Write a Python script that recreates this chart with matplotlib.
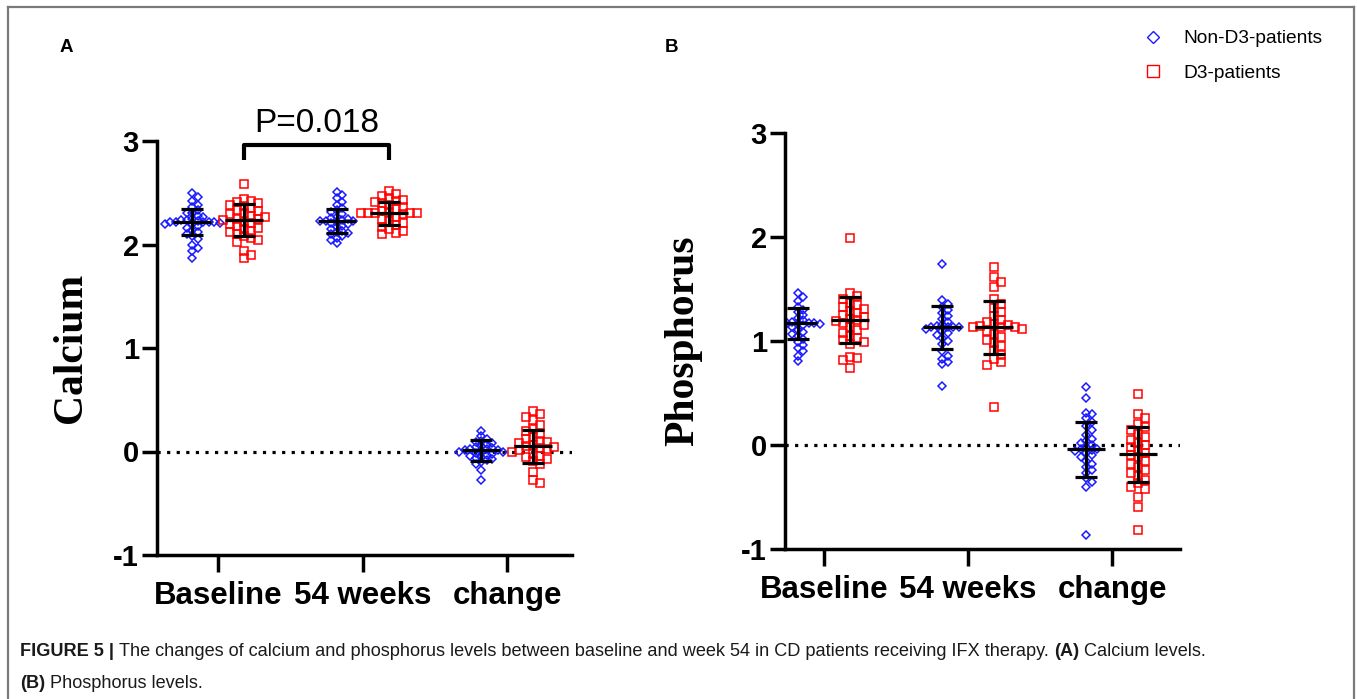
import matplotlib
matplotlib.use("Agg")
import matplotlib.pyplot as plt
from matplotlib.lines import Line2D

plt.rcParams["axes.unicode_minus"] = False

W, H = 1357, 699

groups = ["Baseline", "54 weeks", "change"]
series = ["Non-D3-patients", "D3-patients"]

# calcium, non-D3
ca_base_non = [2.50, 2.46, 2.42, 2.38, 2.36, 2.33, 2.30, 2.30, 2.28, 2.27, 2.25, 2.24, 2.24,
               2.23, 2.22, 2.22, 2.22, 2.22, 2.22, 2.21, 2.20, 2.20, 2.18, 2.16, 2.14, 2.12,
               2.10, 2.08, 2.05, 2.00, 1.97, 1.94, 1.87]
ca_54w_non = [2.51, 2.48, 2.45, 2.41, 2.38, 2.35, 2.33, 2.31, 2.29, 2.27, 2.26, 2.25, 2.24,
              2.23, 2.23, 2.23, 2.22, 2.21, 2.20, 2.18, 2.17, 2.15, 2.13, 2.12, 2.11, 2.10,
              2.08, 2.06, 2.04, 2.01]
ca_chg_non = [0.20, 0.15, 0.12, 0.10, 0.09, 0.08, 0.07, 0.05, 0.04, 0.03, 0.02, 0.02, 0.01,
              0.01, 0.00, 0.00, 0.00, -0.01, -0.02, -0.03, -0.04, -0.05, -0.06, -0.07, -0.08,
              -0.10, -0.12, -0.18, -0.28]
# calcium, D3
ca_base_d3 = [2.58, 2.44, 2.42, 2.41, 2.40, 2.38, 2.37, 2.35, 2.33, 2.32, 2.30, 2.29, 2.28,
              2.27, 2.25, 2.25, 2.24, 2.22, 2.21, 2.20, 2.18, 2.16, 2.15, 2.13, 2.12, 2.10,
              2.08, 2.06, 2.04, 2.02, 1.94, 1.90, 1.87]
ca_54w_d3 = [2.52, 2.49, 2.47, 2.45, 2.43, 2.42, 2.41, 2.40, 2.38, 2.36, 2.34, 2.32, 2.31,
             2.30, 2.30, 2.30, 2.30, 2.30, 2.29, 2.27, 2.25, 2.23, 2.21, 2.19, 2.17, 2.15,
             2.13, 2.11, 2.10]
ca_chg_d3 = [0.39, 0.36, 0.33, 0.30, 0.26, 0.22, 0.20, 0.17, 0.14, 0.12, 0.10, 0.09, 0.08,
             0.06, 0.05, 0.04, 0.03, 0.02, 0.01, 0.00, -0.02, -0.04, -0.05, -0.07, -0.09,
             -0.12, -0.20, -0.28, -0.30]

# phosphorus, non-D3
ph_base_non = [1.46, 1.42, 1.38, 1.33, 1.30, 1.28, 1.25, 1.22, 1.20, 1.18, 1.17, 1.17, 1.17,
               1.17, 1.17, 1.16, 1.15, 1.13, 1.11, 1.09, 1.07, 1.05, 1.02, 0.99, 0.96, 0.93,
               0.90, 0.86, 0.81]
ph_54w_non = [1.74, 1.39, 1.36, 1.33, 1.30, 1.27, 1.24, 1.21, 1.18, 1.15, 1.14, 1.13, 1.13,
              1.13, 1.13, 1.12, 1.10, 1.08, 1.06, 1.03, 1.00, 0.97, 0.90, 0.86, 0.83, 0.80,
              0.78, 0.57]
ph_chg_non = [0.56, 0.45, 0.31, 0.30, 0.26, 0.22, 0.18, 0.14, 0.10, 0.06, 0.04, 0.02, 0.00,
              -0.02, -0.04, -0.04, -0.05, -0.06, -0.08, -0.10, -0.12, -0.15, -0.18, -0.21,
              -0.24, -0.27, -0.32, -0.36, -0.40, -0.87]
# phosphorus, D3
ph_base_d3 = [1.99, 1.46, 1.43, 1.40, 1.37, 1.35, 1.33, 1.31, 1.29, 1.27, 1.25, 1.23, 1.21,
              1.20, 1.19, 1.17, 1.15, 1.13, 1.11, 1.08, 1.05, 1.03, 1.01, 0.99, 0.97, 0.85,
              0.84, 0.82, 0.74]
ph_54w_d3 = [1.71, 1.62, 1.57, 1.52, 1.40, 1.36, 1.32, 1.28, 1.24, 1.20, 1.18, 1.16, 1.15,
             1.14, 1.13, 1.13, 1.13, 1.12, 1.10, 1.07, 1.04, 1.01, 0.98, 0.95, 0.91, 0.87,
             0.83, 0.80, 0.77, 0.37]
ph_chg_d3 = [0.49, 0.30, 0.26, 0.20, 0.17, 0.14, 0.11, 0.08, 0.05, 0.02, 0.00, -0.02, -0.05,
             -0.08, -0.10, -0.12, -0.15, -0.18, -0.21, -0.24, -0.27, -0.30, -0.34, -0.37,
             -0.40, -0.42, -0.50, -0.60, -0.82]

# mean and SD bars
ca_mean_non = [2.22, 2.23, 0.01]
ca_sd_non = [0.125, 0.115, 0.10]
ca_mean_d3 = [2.24, 2.30, 0.05]
ca_sd_d3 = [0.155, 0.115, 0.16]
ph_mean_non = [1.17, 1.13, -0.04]
ph_sd_non = [0.15, 0.21, 0.265]
ph_mean_d3 = [1.20, 1.13, -0.09]
ph_sd_d3 = [0.22, 0.255, 0.265]

p_text = "P=0.018"

BLUE = "#1a1aff"
RED = "#ff0000"
SANS = "Liberation Sans"
SERIF = "Liberation Serif"


def swarm(vals, center, ppx, ppy, step, gap):
    # simple column scatter: nudge points sideways until they stop overlapping
    placed = []
    xs = []
    cands = [0]
    for i in range(1, 40):
        cands += [i, -i]
    for v in vals:
        y = v * ppy
        for c in cands:
            x = c * step
            if all(abs(x - px) >= step * 0.99 or abs(y - py) >= gap for px, py in placed):
                break
        placed.append((x, y))
        xs.append(center + x / ppx)
    return xs


fig = plt.figure(figsize=(W / 100, H / 100), dpi=100)

# frame around the figure part
kw = dict(transform=fig.transFigure, color="#7a7a7a", lw=1.6)
fig.add_artist(Line2D([8 / W, 8 / W], [0, 1 - 7 / H], **kw))
fig.add_artist(Line2D([8 / W, 1354 / W], [1 - 7 / H, 1 - 7 / H], **kw))
fig.add_artist(Line2D([1354 / W, 1354 / W], [0, 1 - 7 / H], **kw))

axA = fig.add_axes([157 / W, 1 - 555 / H, 415 / W, 414 / H])
axB = fig.add_axes([785 / W, 1 - 549 / H, 395 / W, 416 / H])

panels = [
    (axA, "Calcium", [ca_base_non, ca_54w_non, ca_chg_non], [ca_base_d3, ca_54w_d3, ca_chg_d3],
     ca_mean_non, ca_sd_non, ca_mean_d3, ca_sd_d3, 0.576, 3.45),
    (axB, "Phosphorus", [ph_base_non, ph_54w_non, ph_chg_non], [ph_base_d3, ph_54w_d3, ph_chg_d3],
     ph_mean_non, ph_sd_non, ph_mean_d3, ph_sd_d3, 0.73, 3.47),
]

off = 0.18
for ax, ylab, non, d3, mn, sn, md, sd, x0, x1 in panels:
    ax.set_xlim(x0, x1)
    ax.set_ylim(-1, 3)
    bb = ax.get_position()
    ppx = bb.width * W / (x1 - x0)
    ppy = bb.height * H / 4.0

    ax.axhline(0, color="black", lw=2.3, ls=(0, (1, 2)), zorder=1)

    for i in range(3):
        xb = swarm(non[i], i + 1 - off, ppx, ppy, 5.5, 5.0)
        ax.plot(xb, non[i], ls="none", marker="D", ms=4.2, mfc="none", mec=BLUE, mew=1.1, zorder=2)
        xr = swarm(d3[i], i + 1 + off, ppx, ppy, 7.0, 6.5)
        ax.plot(xr, d3[i], ls="none", marker="s", ms=5.2, mfc="none", mec=RED, mew=1.1, zorder=2)

    pos = [1 - off, 2 - off, 3 - off]
    ax.errorbar(pos, mn, yerr=sn, fmt="_", ms=27, mew=2.3, color="black", ecolor="black",
                elinewidth=2.3, capsize=8, capthick=2.3, zorder=3)
    pos = [1 + off, 2 + off, 3 + off]
    ax.errorbar(pos, md, yerr=sd, fmt="_", ms=27, mew=2.3, color="black", ecolor="black",
                elinewidth=2.3, capsize=8, capthick=2.3, zorder=3)

    for s in ["top", "right"]:
        ax.spines[s].set_visible(False)
    for s in ["left", "bottom"]:
        ax.spines[s].set_linewidth(2.5)
    ax.set_yticks([-1, 0, 1, 2, 3])
    ax.set_xticks([1, 2, 3])
    ax.set_xticklabels(groups)
    ax.tick_params(axis="y", length=11, width=2.5, pad=2, labelsize=21)
    ax.tick_params(axis="x", length=12, width=2.5, pad=7, labelsize=22.5)
    for t in ax.get_xticklabels() + ax.get_yticklabels():
        t.set_fontfamily(SANS)
        t.set_fontweight("bold")
    ax.set_ylabel(ylab, fontfamily=SERIF, fontweight="bold", fontsize=30)

# label anchor is the right-hand edge of the rotated text
axA.yaxis.set_label_coords((90 - 157) / 415, 0.5)
axB.yaxis.set_label_coords((702 - 785) / 395, 0.5)

# significance bracket between the two D3 columns
axA.plot([1 + off, 1 + off, 2 + off, 2 + off], [2.82, 2.96, 2.96, 2.82], color="black",
         lw=3, clip_on=False, solid_capstyle="butt")
axA.text(1.5 + off, 3.02, p_text, ha="center", va="bottom", fontsize=24, fontfamily=SANS,
         clip_on=False)

fig.text(60 / W, 1 - 47 / H, "A", fontsize=13.5, fontweight="bold", fontfamily=SANS,
         ha="left", va="center")
fig.text(665 / W, 1 - 47 / H, "B", fontsize=13.5, fontweight="bold", fontfamily=SANS,
         ha="left", va="center")

handles = [
    Line2D([], [], ls="none", marker="D", ms=6, mfc="none", mec=BLUE, mew=1.0),
    Line2D([], [], ls="none", marker="s", ms=8, mfc="none", mec=RED, mew=1.0),
]
fig.legend(handles, series, loc="upper left", bbox_to_anchor=(1141 / W, 1 - 30 / H),
           frameon=False, prop={"family": SANS, "size": 13.8}, handlelength=1.2,
           handletextpad=1.0, labelspacing=0.9, borderaxespad=0, borderpad=0)

# caption with bold pieces
renderer = fig.canvas.get_renderer()


def rich_line(x, y, parts):
    for s, w in parts:
        t = fig.text(x, y, s, fontsize=13.1, fontweight=w, fontfamily=SANS, color="#1a1a1a",
                     ha="left", va="center")
        x += t.get_window_extent(renderer=renderer).width / W


rich_line(20 / W, 1 - 652 / H, [
    ("FIGURE 5 | ", "bold"),
    ("The changes of calcium and phosphorus levels between baseline and week 54 in CD "
     "patients receiving IFX therapy. ", "normal"),
    ("(A)", "bold"),
    (" Calcium levels.", "normal"),
])
rich_line(20 / W, 1 - 684 / H, [
    ("(B)", "bold"),
    (" Phosphorus levels.", "normal"),
])

fig.savefig("out.png", dpi=100)
